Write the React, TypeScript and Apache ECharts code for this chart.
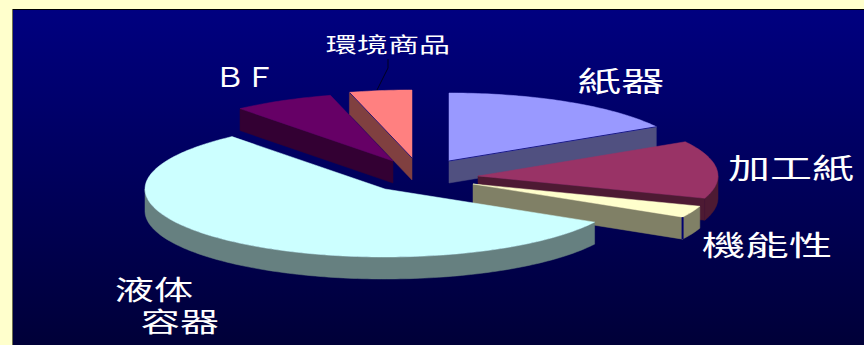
import React, { useEffect, useRef } from "react";
import * as echarts from "echarts";

// Share of each product group (percent), clockwise from twelve o'clock.
const categories = ["紙器", "加工紙", "機能性", "液体\n容器", "ＢＦ", "環境商品"];
const shares = [16.6, 13.7, 2.8, 55.9, 6.8, 4.2];

const WIDTH = 864;
const HEIGHT = 345;

// Projection of the tilted pie.
const RADIUS_X = 240;
const RADIUS_Y = 68;
const DEPTH = 22;
const CENTER = [425, 175];

// Per-slice styling, in the same order as the categories.
const pulledOut = [[24, -14], [53, 1], [48, 9], [-40, 14], [-32, -14], [-13, -17]];
const topColors = ["#9999FF", "#993366", "#FFFFCC", "#CCFFFF", "#660066", "#FF8080"];
const sideColors = ["#505080", "#4D1A33", "#808066", "#668080", "#330033", "#804040"];
const paintOrder = [2, 3, 4, 5, 1, 0];
const labelPlacement = [
  [[621, 79, 29, 1.5]],
  [[791, 167, 28, 1.5]],
  [[767, 243, 29, 1.5]],
  [[154, 288, 27, 1.45], [180, 320, 27, 1.45]],
  [[245, 75, 27, 1.12]],
  [[388, 43, 21, 1.48]],
];
// Thin dark seams: "radial" runs along the slice's cut edge, "corner" down its wall.
const seams = ["radial-end", null, "corner-end", null, null, "radial-start"];
const SEAM_COLOR = "#000070";

const TOTAL = shares.reduce((sum, v) => sum + v, 0);
const startAngles: number[] = [];
shares.reduce((acc, v, i) => {
  startAngles[i] = (acc / TOTAL) * Math.PI * 2;
  return acc + v;
}, 0);

function rimPoint(ax: number, ay: number, angle: number, drop = 0) {
  return [ax + RADIUS_X * Math.sin(angle), ay - RADIUS_Y * Math.cos(angle) + drop];
}

function arcAngles(from: number, to: number) {
  const steps = Math.max(2, Math.ceil((to - from) / 0.02));
  const list: number[] = [];
  for (let k = 0; k <= steps; k++) list.push(from + ((to - from) * k) / steps);
  return list;
}

function renderSlice(params: any, api: any) {
  const i = params.dataIndex;
  const sweep = (api.value(0) / TOTAL) * Math.PI * 2;
  const a0 = startAngles[i];
  const a1 = a0 + sweep;
  const ax = CENTER[0] + pulledOut[i][0];
  const ay = CENTER[1] + pulledOut[i][1];
  const z = paintOrder[i] * 10 + 10;
  const children: any[] = [];

  const wall = (points: number[][], z2: number) => ({
    type: "polygon",
    z2,
    shape: { points },
    style: { fill: sideColors[i], stroke: sideColors[i], lineWidth: 0.5 },
  });

  // Straight cut faces, shown only when they turn towards the viewer.
  if (Math.sin(a1) > 0) {
    const p = rimPoint(ax, ay, a1);
    children.push(wall([[ax, ay], p, [p[0], p[1] + DEPTH], [ax, ay + DEPTH]], z));
  }
  if (Math.sin(a0) < 0) {
    const p = rimPoint(ax, ay, a0);
    children.push(wall([[ax, ay], p, [p[0], p[1] + DEPTH], [ax, ay + DEPTH]], z));
  }

  // Curved outer face over the front half of the ellipse.
  const frontFrom = Math.max(a0, Math.PI / 2);
  const frontTo = Math.min(a1, (Math.PI * 3) / 2);
  if (frontTo > frontFrom) {
    const angles = arcAngles(frontFrom, frontTo);
    const upper = angles.map((t) => rimPoint(ax, ay, t));
    const lower = angles.map((t) => rimPoint(ax, ay, t, DEPTH)).reverse();
    children.push(wall(upper.concat(lower), z + 1));
  }

  // Top face.
  const rim = arcAngles(a0, a1).map((t) => rimPoint(ax, ay, t));
  children.push({
    type: "polygon",
    z2: z + 2,
    shape: { points: [[ax, ay], ...rim] },
    style: { fill: topColors[i], stroke: topColors[i], lineWidth: 0.5 },
  });

  // Optional dark seam on the slice's edge.
  const seam = seams[i];
  if (seam) {
    const tip = rimPoint(ax, ay, seam.endsWith("start") ? a0 : a1);
    const line = seam.startsWith("corner")
      ? { x1: tip[0], y1: tip[1], x2: tip[0], y2: tip[1] + DEPTH }
      : { x1: ax, y1: ay, x2: tip[0], y2: tip[1] };
    children.push({
      type: "line",
      z2: z + 3,
      shape: line,
      style: { stroke: SEAM_COLOR, lineWidth: seam.startsWith("corner") ? 2 : 0.8 },
    });
  }

  // Label, one text per line.
  String(categories[i])
    .split("\n")
    .forEach((line, n) => {
      const [x, y, size, stretch] = labelPlacement[i][n];
      children.push({
        type: "text",
        z2: 100,
        x,
        y,
        scaleX: stretch,
        style: {
          text: line,
          fill: "#FFFFFF",
          fontSize: size,
          fontFamily: "'Noto Sans CJK TC', sans-serif",
          align: "center",
          verticalAlign: "middle",
        },
      });
    });

  return { type: "group", children };
}

export default function App() {
  const ref = useRef<HTMLDivElement>(null);

  useEffect(() => {
    const chart = echarts.init(ref.current!, null, { renderer: "svg" });
    chart.setOption({
      animation: false,
      backgroundColor: "#FFFFCC",
      graphic: [
        {
          type: "rect",
          z: 0,
          shape: { x: 13, y: 9, width: WIDTH - 13, height: HEIGHT - 9 },
          style: {
            fill: new echarts.graphic.LinearGradient(0, 0, 0, 1, [
              { offset: 0, color: "#000080" },
              { offset: 1, color: "#000038" },
            ]),
          },
        },
        {
          type: "line",
          z: 1,
          shape: { x1: 12, y1: 9.5, x2: WIDTH, y2: 9.5 },
          style: { stroke: "#000000", lineWidth: 1 },
        },
        {
          type: "line",
          z: 1,
          shape: { x1: 12.5, y1: 9, x2: 12.5, y2: HEIGHT },
          style: { stroke: "#6E6E50", lineWidth: 1 },
        },
        // Leader from the 環境商品 label down to its slice.
        {
          type: "polyline",
          z: 30,
          shape: { points: [[388, 59], [388, 68], [377, 90]] },
          style: { stroke: "#000020", lineWidth: 1, fill: "none" },
        },
      ],
      series: [
        {
          type: "custom",
          coordinateSystem: "none",
          z: 10,
          renderItem: renderSlice,
          data: shares.map((value, i) => ({ name: categories[i], value })),
        },
      ],
    });
    return () => chart.dispose();
  }, []);

  return (
    <div
      ref={ref}
      style={{ position: "fixed", left: 0, top: 0, width: WIDTH, height: HEIGHT }}
    />
  );
}
